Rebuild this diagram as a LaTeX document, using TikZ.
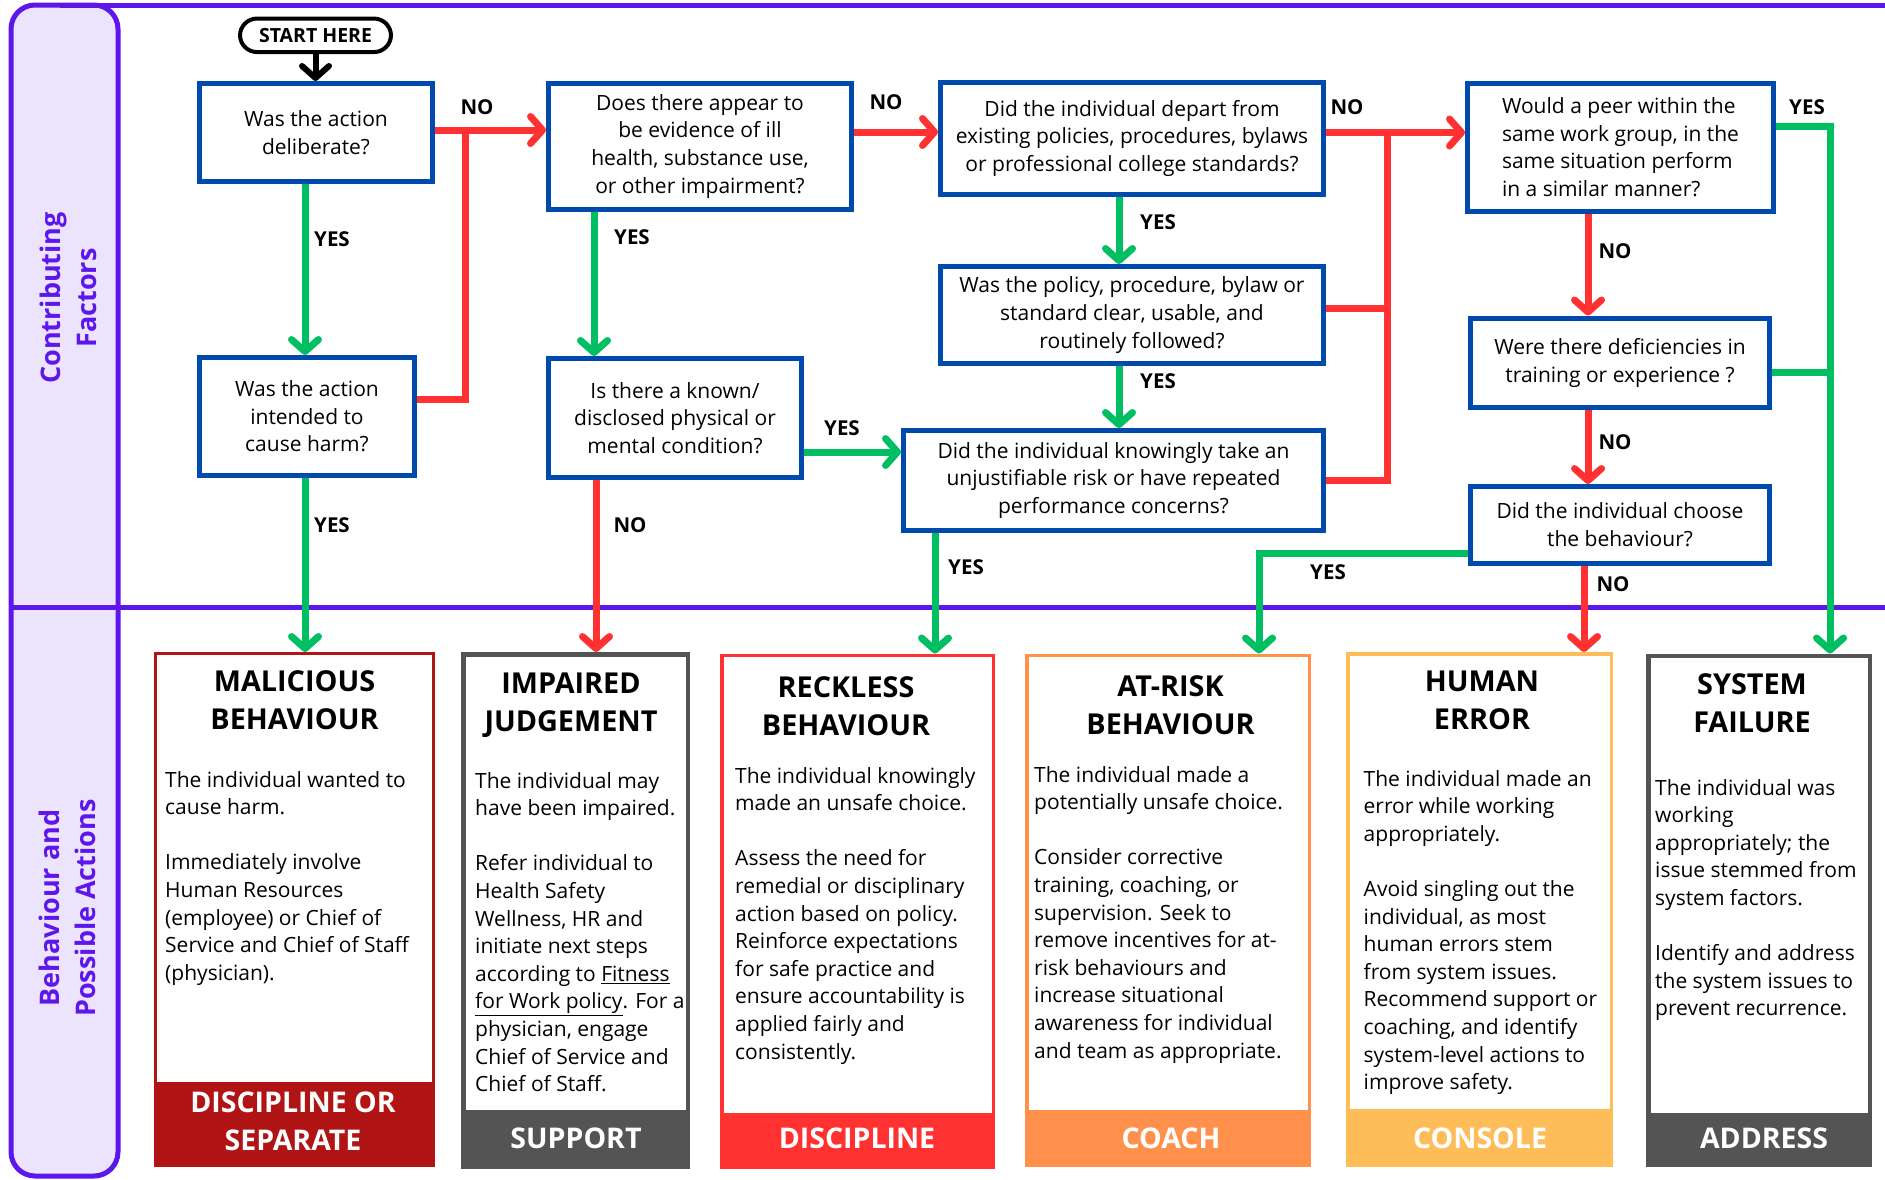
\documentclass[tikz,border=0pt]{standalone}
\usepackage{fontspec}
\setmainfont{Open Sans}
\usetikzlibrary{arrows.meta,calc}

\definecolor{frame}{HTML}{5E17EB}
\definecolor{colfill}{HTML}{ECE4FC}
\definecolor{qblue}{HTML}{004AAD}
\definecolor{ygreen}{HTML}{00BF63}
\definecolor{nred}{HTML}{FF3131}
\definecolor{darkred}{HTML}{B11414}
\definecolor{slate}{HTML}{545454}
\definecolor{coral}{HTML}{FF914D}
\definecolor{amber}{HTML}{FFBD59}

\newcommand\qfont{\fontsize{21}{27.6}\selectfont}
\newcommand\lblfont{\bfseries\fontsize{20.5}{24}\selectfont}
\newcommand\headfont{\bfseries\fontsize{28.8}{38}\selectfont}
\newcommand\footfont{\bfseries\fontsize{28.5}{38}\selectfont}
\newcommand\colfont{\bfseries\fontsize{27}{36}\selectfont}

\begin{document}
\begin{tikzpicture}[x=1pt,y=-1pt,
  qbox/.style={draw=qblue, line width=5pt, inner sep=0pt, align=center, font=\qfont},
  startbox/.style={draw=black, line width=4pt, rounded corners=17pt, inner sep=0pt,
    font=\bfseries\fontsize{19.5}{22}\selectfont},
  lbl/.style={font=\lblfont, inner sep=0pt},
  coltext/.style={rotate=90, align=center, text=frame, font=\colfont, inner sep=0pt},
  outcome/.style={draw=#1, fill=white, inner sep=0pt},
  headtext/.style={align=center, font=\headfont, inner sep=0pt},
  bodytext/.style={align=left, font=\qfont, anchor=north west, inner sep=0pt},
  foottext/.style={align=center, font=\footfont, text=white, inner sep=0pt},
  barb/.tip={Straight Barb[length=12pt,width=27pt,line cap=round,line join=round]},
  conn/.style={line width=7pt},
  yesline/.style={conn, draw=ygreen},
  noline/.style={conn, draw=nred},
  yesarrow/.style={yesline, -barb},
  noarrow/.style={noline, -barb},
  startarrow/.style={line width=6pt, draw=black, -barb},
  frameline/.style={draw=frame, line width=5pt}
]
\useasboundingbox (0,0) rectangle (1885,1179);

% ---------- frame and side column ----------
\filldraw[frameline, fill=colfill, rounded corners=24pt] (11,5) rectangle (118,1176);
\draw[frameline] (60,5) -- (1885,5);
\draw[frameline] (11,607.5) -- (1885,607.5);

\node[coltext] (cfLabel) at (68,298) {Contributing\\Factors};
\node[coltext] (bpLabel) at (67,908) {Behaviour and\\Possible Actions};

% ---------- decision boxes ----------
\node[startbox, minimum width=151pt, minimum height=33.5pt] (start) at (315.5,35.3) {START HERE};
\node[qbox, minimum width=233pt, minimum height=98pt] (A) at (316,132.5) {Was the action\\deliberate?};
\node[qbox, minimum width=215pt, minimum height=118pt] (B) at (307,416.5) {Was the action\\intended to\\cause harm?};
\node[qbox, minimum width=303pt, minimum height=125.5pt] (C) at (700,146.25) {Does there appear to\\be evidence of ill\\health, substance use,\\or other impairment?};
\node[qbox, minimum width=253pt, minimum height=119pt] (D) at (675,418) {Is there a known/\\disclosed physical or\\mental condition?};
\node[qbox, minimum width=383pt, minimum height=111.5pt] (E) at (1132,138.25) {Did the individual depart from\\existing policies, procedures, bylaws\\or professional college standards?};
\node[qbox, minimum width=383pt, minimum height=97pt] (F) at (1132,315) {Was the policy, procedure, bylaw or\\standard clear, usable, and\\routinely followed?};
\node[qbox, minimum width=420pt, minimum height=100pt] (G) at (1113.5,480.5) {Did the individual knowingly take an\\unjustifiable risk or have repeated\\performance concerns?};
\node[qbox, align=left, minimum width=306pt, minimum height=127.5pt] (H) at (1620.5,147.25) {Would a peer within the\\same work group, in the\\same situation perform\\in a similar manner?};
\node[qbox, minimum width=299pt, minimum height=89.5pt] (I) at (1620,362.75) {Were there deficiencies in\\training or experience ?};
\node[qbox, minimum width=299pt, minimum height=76.5pt] (J) at (1620,524.75) {Did the individual choose\\the behaviour?};

% ---------- outcome boxes ----------
\node[outcome=darkred, line width=3pt, minimum width=278pt, minimum height=512pt] (mal) at (294.5,909.5) {};
\node[outcome=slate, line width=4.5pt, minimum width=224.5pt, minimum height=512.5pt] (imp) at (575.5,910.5) {};
\node[outcome=nred, line width=3.5pt, minimum width=271.5pt, minimum height=512pt] (rec) at (857.5,911.25) {};
\node[outcome=coral, line width=3.5pt, minimum width=282.5pt, minimum height=510pt] (risk) at (1168,910.25) {};
\node[outcome=amber, line width=3.5pt, minimum width=263.5pt, minimum height=511.5pt] (hum) at (1479.5,909.5) {};
\node[outcome=slate, line width=4.5pt, minimum width=221.5pt, minimum height=509pt] (sys) at (1759,910.25) {};

% footer bands
\coordinate (ftMal) at (0,1082);
\coordinate (ftImp) at (0,1110);
\coordinate (ftRec) at (0,1112.5);
\coordinate (ftRisk) at (0,1110);
\coordinate (ftHum) at (0,1108.5);
\coordinate (ftSys) at (0,1112.5);
\fill[darkred] (mal.south west) rectangle (mal.east |- ftMal);
\fill[slate] (imp.south west) rectangle (imp.east |- ftImp);
\fill[nred] (rec.south west) rectangle (rec.east |- ftRec);
\fill[coral] (risk.south west) rectangle (risk.east |- ftRisk);
\fill[amber] (hum.south west) rectangle (hum.east |- ftHum);
\fill[slate] (sys.south west) rectangle (sys.east |- ftSys);

\node[foottext] (malF) at (293,1121) {DISCIPLINE OR\\SEPARATE};
\node[foottext] (impF) at (576,1138) {SUPPORT};
\node[foottext] (recF) at (857,1138) {DISCIPLINE};
\node[foottext] (riskF) at (1171,1138) {COACH};
\node[foottext] (humF) at (1480,1138) {CONSOLE};
\node[foottext] (sysF) at (1764,1138) {ADDRESS};

% headings
\node[headtext] (malH) at (294.5,700) {MALICIOUS\\BEHAVIOUR};
\node[headtext] (impH) at (571,705) {IMPAIRED\\JUDGEMENT};
\node[headtext] (recH) at (846,706) {RECKLESS\\BEHAVIOUR};
\node[headtext] (riskH) at (1170.5,705) {AT-RISK\\BEHAVIOUR};
\node[headtext] (humH) at (1482,700) {HUMAN\\ERROR};
\node[headtext] (sysH) at (1752,703.5) {SYSTEM\\FAILURE};

% descriptions
\node[bodytext] (malT) at (165,771) {The individual wanted to\\cause harm.\\[27.6pt]Immediately involve\\Human Resources\\(employee) or Chief of\\Service and Chief of Staff\\(physician).};
\node[bodytext] (impT) at (475,772) {The individual may\\have been impaired.\\[27.6pt]Refer individual to\\Health Safety\\Wellness, HR and\\initiate next steps\\according to \underline{Fitness}\\\underline{for Work policy}. For a\\physician, engage\\Chief of Service and\\Chief of Staff.};
\node[bodytext] (recT) at (735,767) {The individual knowingly\\made an unsafe choice.\\[27.6pt]Assess the need for\\remedial or disciplinary\\action based on policy.\\Reinforce expectations\\for safe practice and\\ensure accountability is\\applied fairly and\\consistently.};
\node[bodytext] (riskT) at (1034,766) {The individual made a\\potentially unsafe choice.\\[27.6pt]Consider corrective\\training, coaching, or\\supervision. Seek to\\remove incentives for at-\\risk behaviours and\\increase situational\\awareness for individual\\and team as appropriate.};
\node[bodytext] (humT) at (1363.5,770) {The individual made an\\error while working\\appropriately.\\[27.6pt]Avoid singling out the\\individual, as most\\human errors stem\\from system issues.\\Recommend support or\\coaching, and identify\\system-level actions to\\improve safety.};
\node[bodytext] (sysT) at (1655,779) {The individual was\\working\\appropriately; the\\issue stemmed from\\system factors.\\[27.6pt]Identify and address\\the system issues to\\prevent recurrence.};

% ---------- connector lanes and rows ----------
\coordinate (laneA) at (305,0);
\coordinate (rowAC) at (0,130);
\coordinate (rowB) at (0,399);
\coordinate (joinA) at (465,130);
\coordinate (laneC) at (594,0);
\coordinate (rowCE) at (0,132);
\coordinate (rowDG) at (0,452);
\coordinate (laneD) at (596,0);
\coordinate (laneE) at (1119,0);
\coordinate (rowEH) at (0,132.5);
\coordinate (rowF) at (0,308);
\coordinate (joinE) at (1387,132.5);
\coordinate (laneG) at (935,0);
\coordinate (laneH) at (1588,0);
\coordinate (laneJ) at (1584,0);
\coordinate (rowJ) at (0,553);
\coordinate (laneRisk) at (1259,0);
\coordinate (rowH) at (0,126);
\coordinate (laneSys) at (1830,0);
\coordinate (rowI) at (0,372);

% ---------- connectors ----------
\draw[startarrow] (start.south) -- (start.south |- A.north);
\draw[yesarrow] (A.south -| laneA) -- (B.north -| laneA);
\draw[yesarrow] (B.south -| laneA) -- (mal.north -| laneA);
\draw[noline] (B.east |- rowB) -| (joinA);
\draw[noarrow] (A.east |- rowAC) -- (C.west |- rowAC);
\draw[yesarrow] (C.south -| laneC) -- (D.north -| laneC);
\draw[noarrow] (C.east |- rowCE) -- (E.west |- rowCE);
\draw[yesarrow] (D.east |- rowDG) -- (G.west |- rowDG);
\draw[noarrow] (D.south -| laneD) -- (imp.north -| laneD);
\draw[yesarrow] (E.south -| laneE) -- (F.north -| laneE);
\draw[yesarrow] (F.south -| laneE) -- (G.north -| laneE);
\draw[noarrow] (E.east |- rowEH) -- (H.west |- rowEH);
\draw[noline] (F.east |- rowF) -- (rowF -| joinE);
\draw[noline] (G.east) -| (joinE);
\draw[yesarrow] (G.south -| laneG) -- (rec.north -| laneG);
\draw[noarrow] (H.south -| laneH) -- (I.north -| laneH);
\draw[noarrow] (I.south -| laneH) -- (J.north -| laneH);
\draw[noarrow] (J.south -| laneJ) -- (hum.north -| laneJ);
\draw[yesarrow] (J.west |- rowJ) -| (risk.north -| laneRisk);
\draw[yesarrow] (H.east |- rowH) -| (sys.north -| laneSys);
\draw[yesline] (I.east |- rowI) -- (rowI -| laneSys);

% ---------- branch labels ----------
\node[lbl] (noAC) at (477,107) {NO};
\node[lbl] (yesAB) at (332,239) {YES};
\node[lbl] (yesBM) at (332,525) {YES};
\node[lbl] (noCE) at (886,102) {NO};
\node[lbl] (yesCD) at (632,237) {YES};
\node[lbl] (yesDG) at (842,428) {YES};
\node[lbl] (noDI) at (630,525) {NO};
\node[lbl] (yesEF) at (1158,222) {YES};
\node[lbl] (yesFG) at (1158,381) {YES};
\node[lbl] (yesGR) at (966,567) {YES};
\node[lbl] (noEH) at (1347,107.5) {NO};
\node[lbl] (noHI) at (1615,251) {NO};
\node[lbl] (noIJ) at (1615,442) {NO};
\node[lbl] (noJH) at (1613,584) {NO};
\node[lbl] (yesJR) at (1328,572.5) {YES};
\node[lbl] (yesHS) at (1807,107.5) {YES};
\end{tikzpicture}
\end{document}
